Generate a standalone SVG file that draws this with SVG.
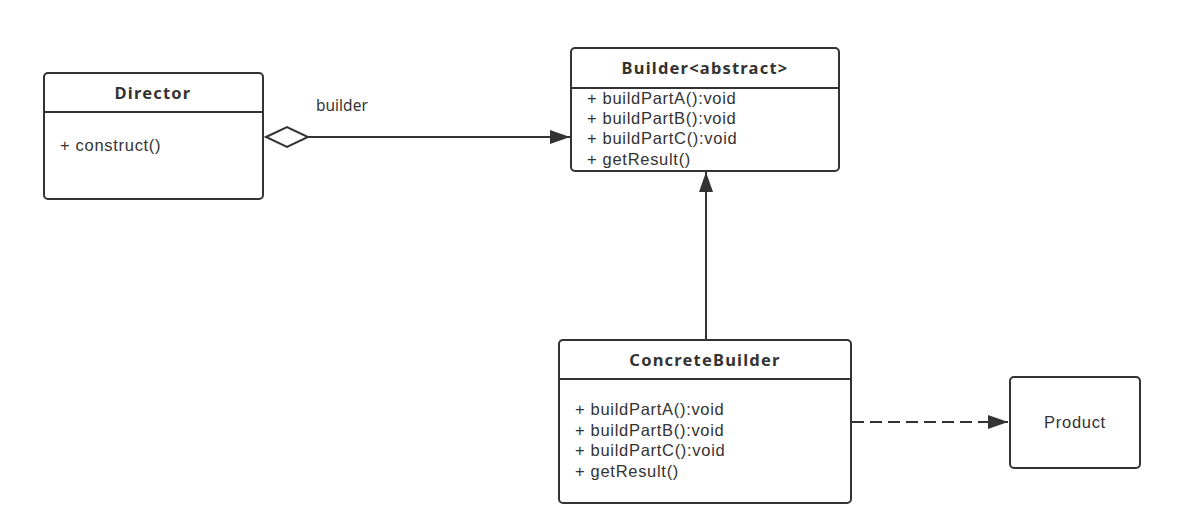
<svg xmlns="http://www.w3.org/2000/svg" width="1178" height="522" viewBox="0 0 1178 522">
<style>
.box{fill:#fff;stroke:#333;stroke-width:2}
.sep{stroke:#333;stroke-width:2}
.t{font-family:"Liberation Sans",Arial,sans-serif;font-size:16.5px;letter-spacing:0.7px;fill:#333}
.b{font-family:"Noto Sans","Open Sans",sans-serif;font-weight:bold;text-anchor:middle;letter-spacing:1.2px}
.lbl{font-family:"Noto Sans","Open Sans",sans-serif;font-size:15.5px;fill:#333}
.ln{stroke:#333;stroke-width:2;fill:none}
</style>
<defs>
<marker id="arr" viewBox="0 0 20 14" refX="20" refY="7" markerWidth="20" markerHeight="14" markerUnits="userSpaceOnUse" orient="auto">
<path d="M0,0 L20,7 L0,14 Z" fill="#333"/>
</marker>
</defs>
<rect width="1178" height="522" fill="#fff"/>
<g id="connectors">
<path class="ln" d="M266,137 L287,127 L308,137 L287,147 Z" fill="#fff"/>
<line class="ln" x1="308" y1="137" x2="570" y2="137" marker-end="url(#arr)"/>
<text class="lbl" x="316" y="111">builder</text>
<line class="ln" x1="706" y1="339" x2="706" y2="172" marker-end="url(#arr)"/>
<line class="ln" x1="852" y1="422" x2="1008" y2="422" stroke-dasharray="12,6" marker-end="url(#arr)"/>
</g>
<g id="director">
<rect class="box" x="44" y="73" width="219" height="126" rx="4"/>
<line class="sep" x1="44" y1="112" x2="263" y2="112"/>
<text class="t b" x="153" y="99">Director</text>
<text class="t" x="60" y="151">+ construct()</text>
</g>
<g id="builder">
<rect class="box" x="571" y="48" width="268" height="123" rx="4"/>
<line class="sep" x1="571" y1="88" x2="839" y2="88"/>
<text class="t b" x="705" y="74">Builder&lt;abstract&gt;</text>
<text class="t" x="587" y="104">+ buildPartA():void</text>
<text class="t" x="587" y="124">+ buildPartB():void</text>
<text class="t" x="587" y="144">+ buildPartC():void</text>
<text class="t" x="587" y="165">+ getResult()</text>
</g>
<g id="concretebuilder">
<rect class="box" x="559" y="340" width="292" height="163" rx="4"/>
<line class="sep" x1="559" y1="379" x2="851" y2="379"/>
<text class="t b" x="705" y="366">ConcreteBuilder</text>
<text class="t" x="575" y="415">+ buildPartA():void</text>
<text class="t" x="575" y="436">+ buildPartB():void</text>
<text class="t" x="575" y="456">+ buildPartC():void</text>
<text class="t" x="575" y="477">+ getResult()</text>
</g>
<g id="product">
<rect class="box" x="1010" y="377" width="130" height="91" rx="4"/>
<text class="t" x="1075" y="428" text-anchor="middle">Product</text>
</g>
</svg>
